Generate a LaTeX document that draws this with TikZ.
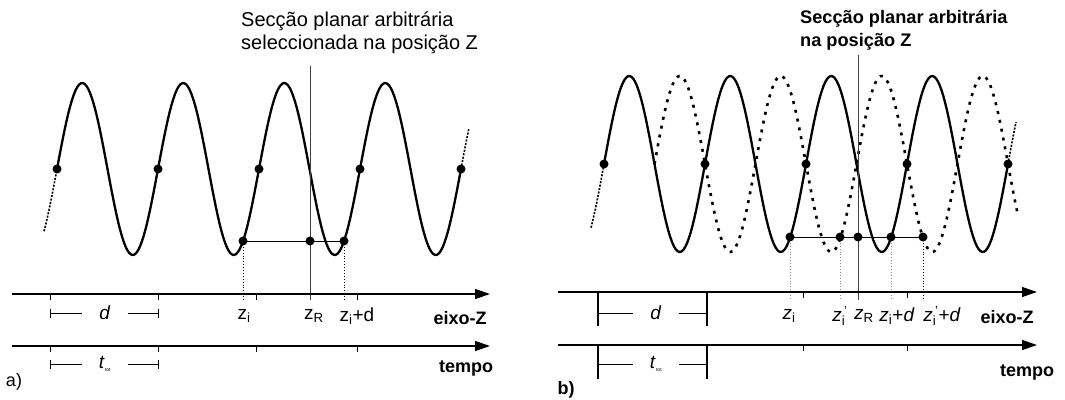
\documentclass[tikz,border=0pt]{standalone}
\usepackage{fontspec}
\setmainfont{Liberation Sans}
\usetikzlibrary{arrows.meta, calc}

\tikzset{
  wave/.style={line width=2.3pt},
  wavedash/.style={line width=1.6pt, dash pattern=on 2pt off 1.5pt},
  wavedot/.style={line width=2.6pt, dash pattern=on 3pt off 6pt},
  axisline/.style={line width=1.2pt, -{Triangle[length=15pt,width=10pt]}},
  thin/.style={line width=0.9pt},
  guide/.style={line width=0.9pt, dotted},
  bar/.style={line width=2.6pt},
  lbl/.style={font=\fontsize{19}{19}\selectfont, inner sep=1pt},
  axname/.style={font=\fontsize{18}{18}\selectfont\bfseries, inner sep=1pt},
  title/.style={font=\fontsize{20}{23}\selectfont, align=left, inner sep=0pt},
  span/.style={font=\fontsize{19}{19}\selectfont, inner ysep=1pt, inner xsep=17pt}
}
\newcommand{\zp}{\textit{z}\rlap{\textsubscript{i}}\textsuperscript{\,'}}

\begin{document}
\begin{tikzpicture}[x=1pt, y=-1pt]

\useasboundingbox (0,0) rectangle (1065,399);

%%%%%%%%%%%%%%%%%%%%%%%% panel a)
\node[title, anchor=north west] (aTitle) at (241,12)
  {Secção planar arbitrária\\seleccionada na posição Z};

%-- wave
\draw[wave] plot[domain=57:461, samples=220] (\x, {169-86*sin(3.5644*(\x-57))});
\draw[wavedash] plot[domain=44:57, samples=10] (\x, {169-86*sin(3.5644*(\x-57))});
\draw[wavedash] plot[domain=461:469, samples=10] (\x, {169-86*sin(3.5644*(\x-57))});
\foreach \k in {0,...,4}
  \fill ({57+101*\k},169) circle (4.5pt);

%-- section plane and points
\coordinate (aTop) at (310,66);
\coordinate (aBot) at (310,300);
\coordinate (aZi)  at (243,241);
\coordinate (aZR)  at (310,241);
\coordinate (aZd)  at (344,241);
\draw[thin, black!75] (aTop) -- (aBot);
\draw[thin] (aZi) -- (aZd);
\foreach \p in {aZi,aZd}
  \draw[guide] (\p) -- (\p |- aBot);
\foreach \p in {aZi,aZR,aZd}
  \fill (\p) circle (4.5pt);

%-- axes
\coordinate (aZs) at (12,294);
\coordinate (aZe) at (490,294);
\coordinate (aTs) at (12,346);
\coordinate (aTe) at (490,346);
\draw[axisline] (aZs) -- (aZe);
\draw[axisline] (aTs) -- (aTe);
\foreach \x in {50,158,256,357} {
  \draw[thin] (\x,294) -- ++(0,6);
  \draw[thin] (\x,346) -- ++(0,6);
}

%-- d and t_rot
\node[span] (aD) at (105,313) {\textit{d}};
\node[span] (aT) at (105,364) {\textit{t}\textsubscript{\tiny rot}};
\foreach \n in {aD,aT} {
  \draw[thin] (50,0 |- \n.west) -- (\n.west);
  \draw[thin] (\n.east) -- (158,0 |- \n.east);
  \draw[thin] ($(50,0 |- \n)+(0,-4.5)$) -- ++(0,9);
  \draw[thin] ($(158,0 |- \n)+(0,-4.5)$) -- ++(0,9);
}

%-- labels
\node[lbl] (aLzi) at (244,316) {z\textsubscript{i}};
\node[lbl] (aLzR) at (314,316) {z\textsubscript{R}};
\node[lbl] (aLzd) at (357,316) {z\textsubscript{i}+d};
\node[axname] (aLz) at (460,318) {eixo-Z};
\node[axname] (aLt) at (466,368) {tempo};
\node[axname, font=\fontsize{18}{18}\selectfont] (aLab) at (14,382) {a)};

%%%%%%%%%%%%%%%%%%%%%%%% panel b)
\node[title, font=\fontsize{18.2}{23}\selectfont\bfseries, anchor=north west] (bTitle) at (800,10)
  {Secção planar arbitrária\\na posição Z};

%-- waves
\draw[wave] plot[domain=604:1008, samples=220] (\x, {164-88*sin(3.5644*(\x-604))});
\draw[wavedash] plot[domain=591:604, samples=10] (\x, {164-88*sin(3.5644*(\x-604))});
\draw[wavedash] plot[domain=1008:1016, samples=10] (\x, {164-88*sin(3.5644*(\x-604))});
\draw[wavedot] plot[domain=654.5:1018, samples=220] (\x, {164+88*sin(3.5644*(\x-604))});
\foreach \k in {0,...,4}
  \fill ({604+101*\k},164) circle (4.5pt);

%-- section plane and points
\coordinate (bTop) at (858,55);
\coordinate (bBot) at (858,300);
\coordinate (bZi)  at (790,237);
\coordinate (bZp)  at (840,237);
\coordinate (bZR)  at (858,237);
\coordinate (bZd)  at (891,237);
\coordinate (bZpd) at (923,237);
\draw[thin, black!75] (bTop) -- (bBot);
\draw[thin] (bZi) -- (bZpd);
\foreach \p in {bZi,bZp,bZd}
  \draw[guide, black!45] (\p) -- (\p |- bBot);
\draw[guide] (bZpd) -- (bZpd |- bBot);
\foreach \p in {bZi,bZp,bZR,bZd,bZpd}
  \fill (\p) circle (4.5pt);

%-- axes
\coordinate (bZs) at (558,292);
\coordinate (bZe) at (1037,292);
\coordinate (bTs) at (558,345);
\coordinate (bTe) at (1037,345);
\draw[axisline] (bZs) -- (bZe);
\draw[axisline] (bTs) -- (bTe);
\foreach \x in {803,907} {
  \draw[thin] (\x,292) -- ++(0,6);
  \draw[thin] (\x,345) -- ++(0,6);
}

%-- d and t_rot
\node[span] (bD) at (656,313) {\textit{d}};
\node[span] (bT) at (656,364) {\textit{t}\textsubscript{\tiny rot}};
\foreach \n in {bD,bT} {
  \draw[thin] (598,0 |- \n.west) -- (\n.west);
  \draw[thin] (\n.east) -- (707,0 |- \n.east);
}
\draw[bar] (598,292) -- (598,326);
\draw[bar] (707,292) -- (707,326);
\draw[bar] (598,345) -- (598,379);
\draw[bar] (707,345) -- (707,379);

%-- labels
\node[lbl] (bLzi) at (789,316) {\textit{z}\textsubscript{i}};
\node[lbl] (bLzp) at (840,316) {\zp};
\node[lbl] (bLzR) at (864,316) {\textit{z}\textsubscript{R}};
\node[lbl] (bLzd) at (897,316) {\textit{z}\textsubscript{i}+\textit{d}};
\node[lbl] (bLzpd) at (942,316) {\zp+\textit{d}};
\node[axname] (bLz) at (1007,317) {eixo-Z};
\node[axname] (bLt) at (1027,372) {tempo};
\node[axname, font=\fontsize{18}{18}\selectfont\bfseries] (bLab) at (566,390) {b)};

\end{tikzpicture}
\end{document}
